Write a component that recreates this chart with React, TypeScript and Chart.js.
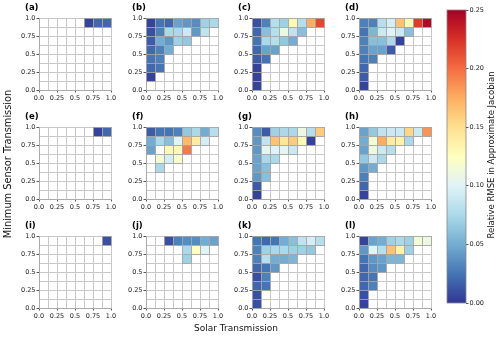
import React, { useEffect, useRef } from 'react';
import { Chart, registerables } from 'chart.js';
Chart.register(...registerables);

const FONT = "'DejaVu Sans', sans-serif";

// ---- data ----
const binEdges = [0, 0.125, 0.25, 0.375, 0.5, 0.625, 0.75, 0.875, 1];
const axisTickLabels = ['0.0', '', '0.25', '', '0.5', '', '0.75', '', '1.0'];
const colorbarTicks = [0, 0.05, 0.1, 0.15, 0.2, 0.25];
const vMin = 0;
const vMax = 0.25;
const panelLabels = ['(a)', '(b)', '(c)', '(d)', '(e)', '(f)', '(g)', '(h)', '(i)', '(j)', '(k)', '(l)'];
const xAxisTitle = 'Solar Transmission';
const yAxisTitle = 'Minimum Sensor Transmission';
const colorbarTitle = 'Relative RMSE in Approximate Jacobian';

const _ = null;
// rows listed from top (sensor bin 0.875-1.0) to bottom (0-0.125); columns solar bins 0 -> 1
const panelA = [
  [_, _, _, _, _, 0.005, 0.02, 0.02],
  [_, _, _, _, _, _, _, _],
  [_, _, _, _, _, _, _, _],
  [_, _, _, _, _, _, _, _],
  [_, _, _, _, _, _, _, _],
  [_, _, _, _, _, _, _, _],
  [_, _, _, _, _, _, _, _],
  [_, _, _, _, _, _, _, _],
];
const panelB = [
  [0.005, 0.025, 0.02, 0.045, 0.04, 0.035, 0.07, 0.075],
  [0.01, 0.03, 0.075, 0.075, 0.09, 0.04, 0.085, _],
  [0.015, 0.05, 0.04, 0.07, 0.065, _, _, _],
  [0.02, 0.03, 0.05, _, _, _, _, _],
  [0.025, 0.03, _, _, _, _, _, _],
  [0.02, 0.025, _, _, _, _, _, _],
  [0.005, _, _, _, _, _, _, _],
  [_, _, _, _, _, _, _, _],
];
const panelC = [
  [0.01, 0.03, 0.08, 0.07, 0.13, 0.08, 0.175, 0.215],
  [0.02, 0.06, 0.08, 0.11, 0.085, 0.06, _, _],
  [0.025, 0.075, 0.08, 0.065, 0.05, _, _, _],
  [0.02, 0.045, 0.045, _, _, _, _, _],
  [0.015, 0.025, _, _, _, _, _, _],
  [0.005, _, _, _, _, _, _, _],
  [0.005, _, _, _, _, _, _, _],
  [0.005, _, _, _, _, _, _, _],
];
const panelD = [
  [0.03, 0.03, 0.08, 0.095, 0.165, 0.13, 0.22, 0.245],
  [0.025, 0.055, 0.09, 0.1, 0.09, 0.06, _, _],
  [0.03, 0.06, 0.06, 0.075, 0.005, _, _, _],
  [0.03, 0.045, 0.045, 0.015, _, _, _, _],
  [0.025, 0.03, _, _, _, _, _, _],
  [0.02, _, _, _, _, _, _, _],
  [0.015, _, _, _, _, _, _, _],
  [0.005, _, _, _, _, _, _, _],
];
const panelE = [
  [_, _, _, _, _, _, 0.005, 0.02],
  [_, _, _, _, _, _, _, _],
  [_, _, _, _, _, _, _, _],
  [_, _, _, _, _, _, _, _],
  [_, _, _, _, _, _, _, _],
  [_, _, _, _, _, _, _, _],
  [_, _, _, _, _, _, _, _],
  [_, _, _, _, _, _, _, _],
];
const panelF = [
  [0.015, 0.025, 0.025, 0.03, 0.065, 0.075, 0.05, 0.08],
  [0.05, 0.075, 0.06, 0.1, 0.17, 0.14, 0.095, _],
  [0.045, _, 0.13, 0.13, 0.195, _, _, _],
  [_, 0.115, 0.095, 0.12, _, _, _, _],
  [_, 0.075, _, _, _, _, _, _],
  [_, _, _, _, _, _, _, _],
  [_, _, _, _, _, _, _, _],
  [_, _, _, _, _, _, _, _],
];
const panelG = [
  [0.035, 0.015, 0.07, 0.075, 0.075, 0.11, 0.08, 0.16],
  [0.04, 0.085, 0.165, 0.145, 0.16, 0.13, 0.005, _],
  [0.04, 0.105, 0.1, 0.105, 0.09, _, _, _],
  [0.045, 0.075, 0.075, _, _, _, _, _],
  [0.045, 0.06, _, _, _, _, _, _],
  [0.04, 0.06, _, _, _, _, _, _],
  [0.015, _, _, _, _, _, _, _],
  [0.005, _, _, _, _, _, _, _],
];
const panelH = [
  [0.045, 0.065, 0.085, 0.09, 0.09, 0.155, 0.09, 0.185],
  [0.05, 0.115, 0.175, 0.14, 0.135, 0.075, _, _],
  [0.045, 0.11, 0.09, 0.08, _, _, _, _],
  [0.065, 0.09, 0.075, _, _, _, _, _],
  [0.04, 0.05, _, _, _, _, _, _],
  [0.03, _, _, _, _, _, _, _],
  [0.02, _, _, _, _, _, _, _],
  [0.005, _, _, _, _, _, _, _],
];
const panelI = [
  [_, _, _, _, _, _, _, 0.01],
  [_, _, _, _, _, _, _, _],
  [_, _, _, _, _, _, _, _],
  [_, _, _, _, _, _, _, _],
  [_, _, _, _, _, _, _, _],
  [_, _, _, _, _, _, _, _],
  [_, _, _, _, _, _, _, _],
  [_, _, _, _, _, _, _, _],
];
const panelJ = [
  [_, _, 0.01, 0.03, 0.035, 0.035, 0.05, 0.045],
  [_, _, _, _, 0.075, 0.125, 0.1, _],
  [_, _, _, _, 0.07, _, _, _],
  [_, _, _, _, _, _, _, _],
  [_, _, _, _, _, _, _, _],
  [_, _, _, _, _, _, _, _],
  [_, _, _, _, _, _, _, _],
  [_, _, _, _, _, _, _, _],
];
const panelK = [
  [0.025, 0.02, 0.025, 0.05, 0.06, 0.085, 0.095, 0.08],
  [0.03, 0.07, 0.075, 0.075, 0.07, 0.07, 0.065, _],
  [0.03, 0.08, 0.05, 0.05, 0.055, _, _, _],
  [0.02, 0.025, 0.04, _, _, _, _, _],
  [0.01, 0.03, _, _, _, _, _, _],
  [0.02, 0.025, _, _, _, _, _, _],
  [0.01, _, _, _, _, _, _, _],
  [0.01, _, _, _, _, _, _, _],
];
const panelL = [
  [0.005, 0.045, 0.05, 0.07, 0.075, 0.07, 0.115, 0.11],
  [0.04, 0.1, 0.08, 0.165, 0.135, 0.07, _, _],
  [0.025, 0.04, 0.045, 0.055, 0.055, _, _, _],
  [0.02, 0.035, 0.04, _, _, _, _, _],
  [0.02, 0.025, _, _, _, _, _, _],
  [0.02, 0.03, _, _, _, _, _, _],
  [0.01, _, _, _, _, _, _, _],
  [0.005, _, _, _, _, _, _, _],
];
const panelGrids = [panelA, panelB, panelC, panelD, panelE, panelF, panelG, panelH, panelI, panelJ, panelK, panelL];

// RdYlBu_r colormap stops
const cmapStops = ['#313695', '#4575b4', '#74add1', '#abd9e9', '#e0f3f8', '#ffffbf', '#fee090', '#fdae61', '#f46d43', '#d73027', '#a50026'];

function hexToRgb(h: string) {
  return [parseInt(h.slice(1, 3), 16), parseInt(h.slice(3, 5), 16), parseInt(h.slice(5, 7), 16)];
}
function colormap(v: number) {
  let t = (v - vMin) / (vMax - vMin);
  t = Math.max(0, Math.min(1, t));
  const n = cmapStops.length - 1;
  const i = Math.min(n - 1, Math.floor(t * n));
  const f = t * n - i;
  const a = hexToRgb(cmapStops[i]);
  const b = hexToRgb(cmapStops[i + 1]);
  const c = a.map((x, k) => Math.round(x + (b[k] - x) * f));
  return `rgb(${c[0]},${c[1]},${c[2]})`;
}

// ---- layout ----
const PANEL_LEFTS = [39, 146, 252, 359];
const PANEL_TOPS = [18, 127, 236];
const PLOT = 72;
const OFF_L = 34;
const OFF_T = 20;
const CW = OFF_L + PLOT + 10;
const CH = OFF_T + PLOT + 14;

const heatPlugin = {
  id: 'heatCells',
  beforeDatasetsDraw(chart: any) {
    const { ctx, scales } = chart;
    const x = scales.x;
    const y = scales.y;
    const pts = chart.data.datasets[0].data as any[];
    ctx.save();
    pts.forEach((p) => {
      const l = x.getPixelForValue(p.x0);
      const r = x.getPixelForValue(p.x1);
      const t = y.getPixelForValue(p.y1);
      const b = y.getPixelForValue(p.y0);
      ctx.fillStyle = colormap(p.v);
      ctx.fillRect(l, t, r - l, b - t);
      ctx.strokeStyle = 'rgba(165,165,165,0.9)';
      ctx.lineWidth = 1;
      ctx.strokeRect(Math.round(l) + 0.5, Math.round(t) + 0.5, Math.round(r - l), Math.round(b - t));
    });
    ctx.restore();
  },
};

// draws the panel letter just above-left of the plot area
const panelLabelPlugin = {
  id: 'panelLabel',
  afterDraw(chart: any) {
    const { ctx, chartArea } = chart;
    const text = chart.options.plugins.panelLabel.text;
    ctx.save();
    ctx.font = `bold 8.5px ${FONT}`;
    ctx.fillStyle = '#000';
    ctx.textAlign = 'left';
    ctx.textBaseline = 'middle';
    ctx.fillText(text, chartArea.left - 14, chartArea.top - 10.5);
    ctx.restore();
  },
};

const tickFont = { family: FONT, size: 6.5 };
const gridColor = '#c8c8c8';

function axisOpts(isX: boolean) {
  return {
    type: 'linear' as const,
    min: 0,
    max: 1,
    afterBuildTicks: (s: any) => {
      s.ticks = binEdges.map((v) => ({ value: v }));
    },
    afterFit: (s: any) => {
      if (isX) s.height = 14;
      else s.width = 30;
    },
    ticks: {
      autoSkip: false,
      maxRotation: 0,
      padding: isX ? 2 : 1,
      font: tickFont,
      color: '#222',
      callback: (_v: any, i: number) => axisTickLabels[i],
    },
    grid: {
      color: gridColor,
      lineWidth: 1,
      tickLength: 2.5,
      tickColor: (ctx: any) => (ctx.index % 2 === 0 ? '#555' : 'rgba(0,0,0,0)'),
    },
    border: { color: '#aaaaaa' },
  };
}

function Panel({ label, grid, left, top }: { label: string; grid: (number | null)[][]; left: number; top: number }) {
  const ref = useRef<HTMLCanvasElement>(null);
  useEffect(() => {
    const points: any[] = [];
    const nRows = grid.length;
    grid.forEach((row, r) =>
      row.forEach((v, c) => {
        if (v == null) return;
        const yi = nRows - 1 - r;
        points.push({
          x: (binEdges[c] + binEdges[c + 1]) / 2,
          y: (binEdges[yi] + binEdges[yi + 1]) / 2,
          x0: binEdges[c],
          x1: binEdges[c + 1],
          y0: binEdges[yi],
          y1: binEdges[yi + 1],
          v,
        });
      })
    );
    const chart = new Chart(ref.current as HTMLCanvasElement, {
      type: 'scatter',
      data: { datasets: [{ data: points, pointRadius: 0, pointHoverRadius: 0 }] },
      options: {
        responsive: false,
        animation: false,
        devicePixelRatio: 1,
        events: [],
        layout: { padding: { left: OFF_L - 30, right: CW - OFF_L - PLOT, top: OFF_T, bottom: 0 } },
        plugins: {
          legend: { display: false },
          tooltip: { enabled: false },
          title: { display: false },
          panelLabel: { text: label },
        },
        scales: { x: axisOpts(true), y: axisOpts(false) },
      } as any,
      plugins: [heatPlugin, panelLabelPlugin],
    });
    return () => chart.destroy();
  }, []);
  return (
    <canvas
      ref={ref}
      width={CW}
      height={CH}
      style={{ position: 'absolute', left: left - OFF_L, top: top - OFF_T, width: CW, height: CH }}
    />
  );
}

const colorbarPlugin = {
  id: 'colorbarFill',
  beforeDatasetsDraw(chart: any) {
    const { ctx, chartArea: a, scales } = chart;
    const y = scales.y;
    const g = ctx.createLinearGradient(0, y.getPixelForValue(vMin), 0, y.getPixelForValue(vMax));
    cmapStops.forEach((c, i) => g.addColorStop(i / (cmapStops.length - 1), c));
    ctx.save();
    ctx.fillStyle = g;
    ctx.fillRect(a.left, a.top, a.right - a.left, a.bottom - a.top);
    ctx.strokeStyle = '#888';
    ctx.lineWidth = 0.8;
    ctx.strokeRect(a.left, a.top, a.right - a.left, a.bottom - a.top);
    ctx.restore();
  },
};

function Colorbar() {
  const ref = useRef<HTMLCanvasElement>(null);
  useEffect(() => {
    const chart = new Chart(ref.current as HTMLCanvasElement, {
      type: 'bar',
      data: { labels: [''], datasets: [] },
      options: {
        responsive: false,
        animation: false,
        devicePixelRatio: 1,
        events: [],
        layout: { padding: { left: 7, right: 0, top: 10, bottom: 9 } },
        plugins: { legend: { display: false }, tooltip: { enabled: false } },
        scales: {
          x: { display: false },
          y: {
            position: 'right',
            min: vMin,
            max: vMax,
            afterBuildTicks: (s: any) => {
              s.ticks = colorbarTicks.map((v) => ({ value: v }));
            },
            afterFit: (s: any) => {
              s.width = 24;
            },
            ticks: {
              font: tickFont,
              color: '#222',
              padding: 1,
              callback: (v: any) => Number(v).toFixed(2),
            },
            grid: { display: true, drawOnChartArea: false, drawTicks: true, tickLength: 2.5, tickColor: '#555' },
            border: { display: false },
          },
        },
      } as any,
      plugins: [colorbarPlugin],
    });
    return () => chart.destroy();
  }, []);
  return (
    <canvas
      ref={ref}
      width={50}
      height={312}
      style={{ position: 'absolute', left: 440, top: 0, width: 50, height: 312 }}
    />
  );
}

const labelStyle: React.CSSProperties = {
  position: 'absolute',
  fontFamily: FONT,
  fontSize: 9,
  color: '#111',
  whiteSpace: 'nowrap',
  lineHeight: '10px',
  height: 10,
};

// vertical label reading bottom-to-top, centred on (cx, cy)
function VLabel({ text, cx, cy, size }: { text: string; cx: number; cy: number; size: number }) {
  const W = 220;
  return (
    <div
      style={{
        ...labelStyle,
        fontSize: size,
        width: W,
        textAlign: 'center',
        left: Math.round(cx - 5),
        top: Math.round(cy + W / 2),
        transformOrigin: '0 0',
        transform: 'rotate(-90deg)',
      }}
    >
      {text}
    </div>
  );
}

export default function App() {
  return (
    <div style={{ position: 'absolute', left: 0, top: 0, width: 500, height: 342, background: '#fff', overflow: 'hidden' }}>
      {panelGrids.map((g, i) => (
        <Panel
          key={i}
          label={panelLabels[i]}
          grid={g}
          left={PANEL_LEFTS[i % 4]}
          top={PANEL_TOPS[Math.floor(i / 4)]}
        />
      ))}
      <Colorbar />
      <VLabel text={yAxisTitle} cx={8} cy={164} size={9.8} />
      <div style={{ ...labelStyle, width: 200, textAlign: 'center', left: 136, top: 323 }}>{xAxisTitle}</div>
      <VLabel text={colorbarTitle} cx={491} cy={155} size={8.5} />
    </div>
  );
}
